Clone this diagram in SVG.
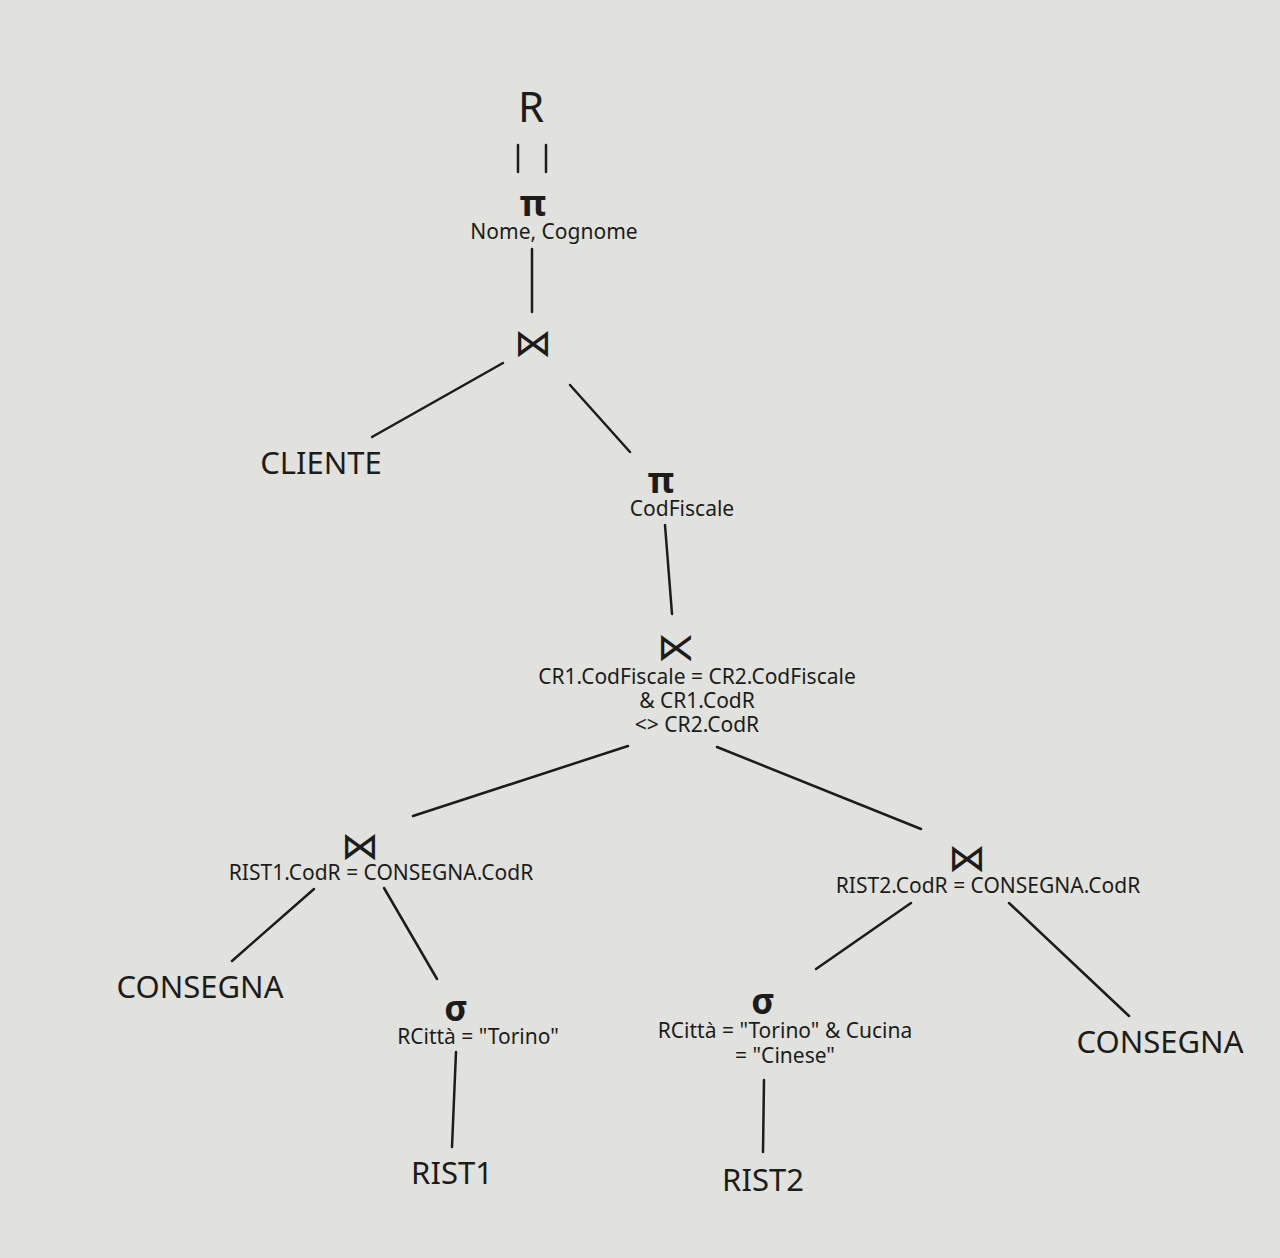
<svg xmlns="http://www.w3.org/2000/svg" width="1280" height="1258" viewBox="0 0 1280 1258">
<style>
text{font-family:"Noto Sans","Open Sans",sans-serif;fill:#1c1c1c;text-anchor:middle}
.rel{font-size:31px}
.lbl{font-size:21px}
.op{font-size:36px;font-weight:bold}
.sym{font-size:38px;font-family:"DejaVu Sans",sans-serif}
.big{font-size:42px}
#edges line{stroke:#1c1c1c;stroke-width:2.5;stroke-linecap:round}
</style>
<rect width="1280" height="1258" fill="#e1e2dd"/>
<g id="edges">
<line x1="518" y1="145" x2="518" y2="172"/>
<line x1="546" y1="145" x2="546" y2="172"/>
<line x1="532" y1="249" x2="532" y2="312"/>
<line x1="503" y1="363" x2="372" y2="437"/>
<line x1="570" y1="385" x2="630" y2="452"/>
<line x1="665" y1="525" x2="672" y2="614"/>
<line x1="628" y1="746" x2="413" y2="816"/>
<line x1="717" y1="747" x2="921" y2="829"/>
<line x1="314" y1="889" x2="232" y2="961"/>
<line x1="384" y1="888" x2="437" y2="979"/>
<line x1="456" y1="1052" x2="452" y2="1147"/>
<line x1="911" y1="903" x2="816" y2="969"/>
<line x1="1009" y1="903" x2="1129" y2="1016"/>
<line x1="764" y1="1080" x2="763" y2="1152"/>
</g>
<g id="n-R"><text class="big" x="531" y="122">R</text></g>
<g id="n-pi1"><text class="op" x="533" y="216">π</text><text class="lbl" x="554" y="239">Nome, Cognome</text></g>
<g id="n-join1"><text class="sym" x="533" y="356">⋈</text></g>
<g id="n-cliente"><text class="rel" x="321" y="474">CLIENTE</text></g>
<g id="n-pi2"><text class="op" x="661" y="493">π</text><text class="lbl" x="682" y="516">CodFiscale</text></g>
<g id="n-semi"><text class="sym" x="676" y="660">⋉</text><text class="lbl" x="697" y="684">CR1.CodFiscale = CR2.CodFiscale</text><text class="lbl" x="697" y="708">&amp; CR1.CodR</text><text class="lbl" x="697" y="732">&lt;&gt; CR2.CodR</text></g>
<g id="n-join2"><text class="sym" x="360" y="859">⋈</text><text class="lbl" x="381" y="880">RIST1.CodR = CONSEGNA.CodR</text></g>
<g id="n-consegna1"><text class="rel" x="200" y="998">CONSEGNA</text></g>
<g id="n-sigma1"><text class="op" x="456" y="1021">σ</text><text class="lbl" x="478" y="1044">RCittà = "Torino"</text></g>
<g id="n-rist1"><text class="rel" x="452" y="1184">RIST1</text></g>
<g id="n-join3"><text class="sym" x="967" y="871">⋈</text><text class="lbl" x="988" y="893">RIST2.CodR = CONSEGNA.CodR</text></g>
<g id="n-sigma2"><text class="op" x="763" y="1014">σ</text><text class="lbl" x="785" y="1038">RCittà = "Torino" &amp; Cucina</text><text class="lbl" x="785" y="1063">= "Cinese"</text></g>
<g id="n-rist2"><text class="rel" x="763" y="1191">RIST2</text></g>
<g id="n-consegna2"><text class="rel" x="1160" y="1053">CONSEGNA</text></g>
</svg>
